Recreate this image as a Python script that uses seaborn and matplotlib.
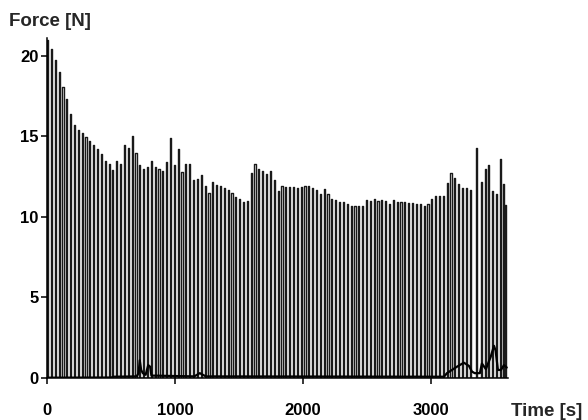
import numpy as np
import pandas as pd
import matplotlib
matplotlib.use("Agg")
import matplotlib.pyplot as plt
import seaborn as sns

# contraction times [s] and peak forces [N]
spike_times = [
    0, 30, 60, 90, 120, 150, 180, 210, 240, 270,
    300, 330, 360, 390, 420, 450, 480, 510, 540, 570,
    600, 630, 660, 690, 720, 750, 780, 810, 840, 870,
    900, 930, 960, 990, 1020, 1050, 1080, 1110, 1140, 1170,
    1200, 1230, 1260, 1290, 1320, 1350, 1380, 1410, 1440, 1470,
    1500, 1530, 1560, 1590, 1620, 1650, 1680, 1710, 1740, 1770,
    1800, 1830, 1860, 1890, 1920, 1950, 1980, 2010, 2040, 2070,
    2100, 2130, 2160, 2190, 2220, 2250, 2280, 2310, 2340, 2370,
    2400, 2430, 2460, 2490, 2520, 2550, 2580, 2610, 2640, 2670,
    2700, 2730, 2760, 2790, 2820, 2850, 2880, 2910, 2940, 2970,
    3000, 3030, 3060, 3090, 3120, 3150, 3180, 3210, 3240, 3270,
    3300, 3352, 3386, 3417, 3443, 3474, 3503, 3539, 3562, 3578,
]
spike_peaks = [
    21.0, 20.4, 19.75, 19.0, 18.1, 17.3, 16.4, 15.7, 15.4, 15.2,
    14.95, 14.7, 14.5, 14.25, 13.9, 13.5, 13.3, 12.9, 13.5, 13.3,
    14.5, 14.3, 15.05, 14.0, 13.2, 13.0, 13.1, 13.5, 13.1, 13.0,
    12.85, 13.4, 14.9, 13.2, 14.2, 12.8, 13.3, 13.3, 12.3, 12.35,
    12.6, 11.95, 11.5, 12.15, 12.0, 11.9, 11.8, 11.65, 11.5, 11.25,
    11.1, 10.95, 10.97, 12.75, 13.3, 13.0, 12.85, 12.65, 12.85, 12.3,
    11.6, 11.9, 11.85, 11.85, 11.85, 11.8, 11.85, 11.9, 11.9, 11.8,
    11.65, 11.4, 11.75, 11.45, 11.1, 11.05, 10.95, 10.9, 10.8, 10.7,
    10.7, 10.65, 10.7, 11.05, 11.0, 11.1, 11.0, 11.05, 11.0, 10.8,
    11.05, 10.95, 10.95, 10.95, 10.85, 10.85, 10.8, 10.8, 10.65, 10.8,
    11.1, 11.3, 11.3, 11.3, 12.1, 12.7, 12.45, 12.05, 11.8, 11.8,
    11.7, 14.3, 12.2, 12.95, 13.2, 11.6, 11.4, 13.6, 12.05, 10.75,
]

# resting force between contractions
base_times = [0, 500, 520, 700, 715, 724, 735, 748, 770, 790, 805, 815,
              1150, 1193, 1240, 3100, 3123, 3201, 3255, 3295, 3318, 3340,
              3380, 3396, 3427, 3464, 3490, 3503, 3521, 3545, 3568, 3590]
base_force = [0.02, 0.03, 0.08, 0.1, 0.3, 1.1, 0.5, 0.3, 0.2, 0.8, 0.7, 0.15,
              0.1, 0.3, 0.1, 0.08, 0.3, 0.7, 0.95, 0.75, 0.4, 0.3,
              0.3, 0.9, 0.55, 1.3, 2.0, 1.7, 0.5, 0.5, 0.8, 0.65]

x_ticks = [0, 1000, 2000, 3000]
y_ticks = [0, 5, 10, 15, 20]

# each contraction drawn as a short plateau from zero to its peak
hold = 9
trace_t, trace_f = [], []
for t, p in zip(spike_times, spike_peaks):
    trace_t += [t, t, t + hold, t + hold]
    trace_f += [0, p, p, 0]
trace = pd.DataFrame({"t": trace_t, "F": trace_f})
base = pd.DataFrame({"t": base_times, "F": base_force})

sns.set_style("white")
plt.rcParams["font.family"] = ["Liberation Sans", "DejaVu Sans"]
plt.rcParams["font.weight"] = "bold"

fig = plt.figure(figsize=(5.88, 4.2), dpi=100)
ax = fig.add_axes([0.080, 0.1, 0.784, 0.809])

sns.lineplot(data=trace, x="t", y="F", sort=False, estimator=None,
             color="#1a1a1a", lw=1.0, ax=ax)
sns.lineplot(data=base, x="t", y="F", sort=False, estimator=None,
             color="black", lw=1.6, ax=ax)

ax.set_xlim(0, 3600)
ax.set_ylim(0, 21.1)
ax.set_xticks(x_ticks)
ax.set_yticks(y_ticks)
ax.set_xlabel("")
ax.set_ylabel("")
for s in ["top", "right"]:
    ax.spines[s].set_visible(False)
for s in ["left", "bottom"]:
    ax.spines[s].set_color("black")
    ax.spines[s].set_linewidth(1.1)
ax.tick_params(axis="x", direction="out", length=4.3, width=1.1,
               pad=13.5, labelsize=12, colors="black", bottom=True)
ax.tick_params(axis="y", direction="out", length=4.3, width=1.1,
               pad=2, labelsize=12, colors="black", left=True)
for lab in ax.get_xticklabels() + ax.get_yticklabels():
    lab.set_fontweight("bold")

fig.text(9 / 588, 1 - 26 / 420, "Force [N]", ha="left", va="baseline",
         fontsize=13.5, fontweight="bold")
fig.text(511 / 588, 1 - 416 / 420, "Time [s]", ha="left", va="baseline",
         fontsize=13.5, fontweight="bold")

fig.savefig("out.png", dpi=100)
